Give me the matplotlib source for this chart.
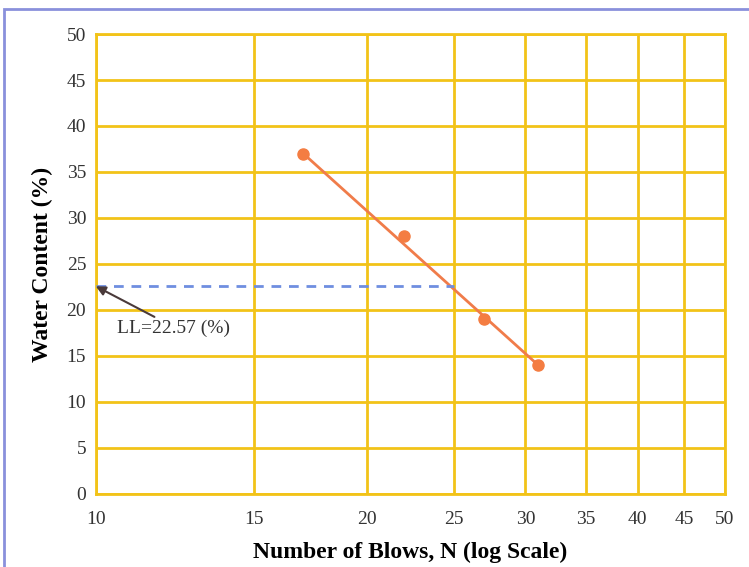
import matplotlib.pyplot as plt
import numpy as np
from matplotlib.patches import Rectangle

blows = [17, 22, 27, 31]
water = [37, 28, 19, 14]
ll_value = 22.57
x_ticks = [10, 15, 20, 25, 30, 35, 40, 45, 50]
y_ticks = [0, 5, 10, 15, 20, 25, 30, 35, 40, 45, 50]

plt.rcParams['font.family'] = ['Liberation Serif', 'DejaVu Serif']

fig = plt.figure(figsize=(7.49, 5.67), dpi=100)
ax = fig.add_axes([0.128, 0.129, 0.840, 0.811])

# blue frame round the figure
fig.patches.append(Rectangle((0.005, -0.05), 1.1, 1.034, transform=fig.transFigure,
                             fill=False, edgecolor='#8a90dc', linewidth=2))

grid_col = '#f2c318'
ax.set_xscale('log')
ax.set_xlim(10, 50)
ax.set_ylim(0, 50)
ax.set_xticks(x_ticks)
ax.set_xticklabels([str(t) for t in x_ticks])
ax.xaxis.set_minor_locator(plt.NullLocator())
ax.set_yticks(y_ticks)
ax.grid(True, color=grid_col, linewidth=2)
for s in ax.spines.values():
    s.set_color(grid_col)
    s.set_linewidth(2)
ax.tick_params(length=0, labelsize=14, colors='#333333')
ax.tick_params(axis='x', pad=12)
ax.tick_params(axis='y', pad=7)
ax.set_axisbelow(True)

ax.plot(blows, water, 'o', color='#f47d42', markersize=8, zorder=4)
ax.plot([blows[0], blows[-1]], [water[0], water[-1]], '-', color='#f07c4a',
        linewidth=2, zorder=3)

ax.plot([10, 25], [ll_value, ll_value], '--', color='#6f8ee0', linewidth=2,
        dashes=(3.5, 2.8), zorder=3)
ax.annotate('LL=22.57 (%)', xy=(10, ll_value), xytext=(10.55, 18.0),
            fontsize=14, color='#333333', va='center', ha='left',
            arrowprops=dict(arrowstyle='-|>', color='#4a3a3a', lw=1.5,
                            relpos=(0.38, 1.0), shrinkA=0, shrinkB=0))

ax.set_xlabel('Number of Blows, N (log Scale)', fontsize=17, fontweight='bold', labelpad=10)
ax.set_ylabel('Water Content (%)', fontsize=17, fontweight='bold', labelpad=10)

fig.savefig('out.png', dpi=100)
